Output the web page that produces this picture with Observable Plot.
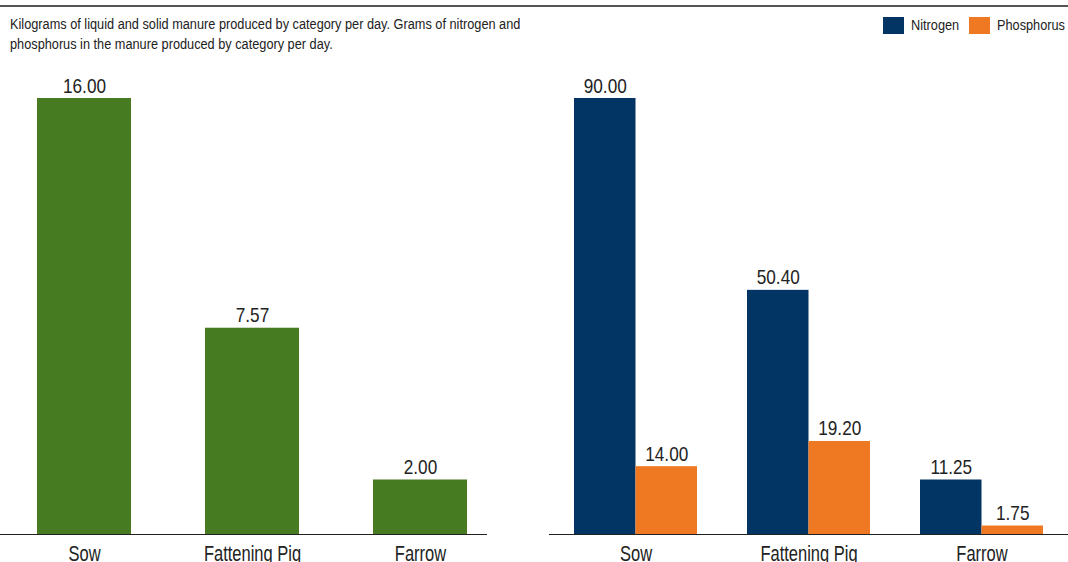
<!DOCTYPE html>
<html>
<head>
<meta charset="utf-8">
<script src="https://cdn.jsdelivr.net/npm/d3@7"></script>
<script src="https://cdn.jsdelivr.net/npm/@observablehq/plot@0.6"></script>
<style>
  html, body { margin: 0; padding: 0; background: #fff; }
  #page {
    position: relative; width: 1068px; height: 562px; overflow: hidden;
    font-family: "Liberation Sans", Arial, sans-serif;
    color: #222;
  }
  #rule { position: absolute; left: 0; top: 5px; width: 1068px; height: 2px; background: #555; }
  #subtitle {
    position: absolute; left: 10px; top: 14px; font-size: 14px; line-height: 20px; color: #222;
    white-space: nowrap; transform: scaleX(0.91); transform-origin: 0 0;
  }
  .sw { position: absolute; width: 21px; height: 17px; top: 17px; }
  .lg {
    position: absolute; top: 17px; font-size: 14px; line-height: 17px; white-space: nowrap;
    transform: scaleX(0.91); transform-origin: 0 0; color: #222;
  }
  #left, #right { position: absolute; top: 0; }
  #left { left: 0; }
  #right { left: 540px; }
</style>
</head>
<body>
<div id="page">
  <div id="rule"></div>
  <div id="subtitle">Kilograms of liquid and solid manure produced by category per day. Grams of nitrogen and<br>phosphorus in the manure produced by category per day.</div>
  <div id="legend"></div>
  <div id="left"></div>
  <div id="right"></div>
</div>
<script>
// Animal categories
const categories = ["Sow", "Fattening Pig", "Farrow"];
// Manure, kg per day
const manureKg = [16.00, 7.57, 2.00];
// Nutrients in the manure, g per day
const nitrogenG = [90.00, 50.40, 11.25];
const phosphorusG = [14.00, 19.20, 1.75];

const seriesNames = ["Nitrogen", "Phosphorus"];
const colors = { manure: "#477b21", Nitrogen: "#033564", Phosphorus: "#ef7823" };

const font = '"Liberation Sans", Arial, sans-serif';
const fmt = d => d.toFixed(2);

const manure = categories.map((c, i) => ({ category: c, value: manureKg[i] }));
const nitrogen = categories.map((c, i) => ({ category: c, value: nitrogenG[i] }));
const phosphorus = categories.map((c, i) => ({ category: c, value: phosphorusG[i] }));

// Legend, right-aligned in the header
const legend = document.getElementById("legend");
const legendX = { Nitrogen: 883, Phosphorus: 969 };
for (const s of seriesNames) {
  const sw = document.createElement("div");
  sw.className = "sw";
  sw.style.left = legendX[s] + "px";
  sw.style.background = colors[s];
  const lb = document.createElement("div");
  lb.className = "lg";
  lb.style.left = (legendX[s] + 28) + "px";
  lb.textContent = s;
  legend.appendChild(sw);
  legend.appendChild(lb);
}

// Condense SVG text horizontally around each label's anchor
function condense(svg, selector, k) {
  svg.querySelectorAll(selector).forEach(t => {
    const tr = t.getAttribute("transform");
    if (tr) {
      t.setAttribute("transform", tr + ` scale(${k},1)`);
    } else {
      const x = +t.getAttribute("x") || 0, y = +t.getAttribute("y") || 0;
      t.setAttribute("transform", `translate(${x},${y}) scale(${k},1) translate(${-x},${-y})`);
    }
  });
  return svg;
}
function condenseAll(svg) {
  condense(svg, 'g[aria-label="text"] text', 0.86);
  condense(svg, 'g[aria-label="x-axis tick label"] text', 0.75);
  return svg;
}

const common = {
  height: 580,
  marginTop: 98,
  marginBottom: 46,
  style: { fontFamily: font, fontSize: "20px", color: "#222", background: "transparent", overflow: "visible" }
};

const valueLabel = { text: d => fmt(d.value), lineAnchor: "bottom", dy: -6, fontSize: 20, fill: "#222" };
const categoryAxis = () => Plot.axisX({ tickSize: 0, tickPadding: 11, fontSize: 22, label: null });

// Manure per category
const left = Plot.plot({
  ...common,
  width: 487,
  marginLeft: 0,
  marginRight: 0,
  x: { domain: categories, range: [0, 504], paddingInner: 0.44, paddingOuter: 0.22 },
  y: { domain: [0, 16], axis: null },
  marks: [
    Plot.barY(manure, { x: "category", y: "value", fill: colors.manure }),
    Plot.text(manure, { x: "category", y: "value", ...valueLabel }),
    Plot.ruleY([0], { stroke: "#222", strokeWidth: 1.2 }),
    categoryAxis()
  ]
});
document.getElementById("left").appendChild(condenseAll(left));

// Nitrogen and phosphorus per category, side by side
const half = 123 / 2;
const right = Plot.plot({
  ...common,
  width: 528,
  marginLeft: 9,
  marginRight: 0,
  x: { domain: categories, paddingInner: 0.289, paddingOuter: 0.1445 },
  y: { domain: [0, 90], axis: null },
  marks: [
    Plot.barY(nitrogen, { x: "category", y: "value", fill: colors.Nitrogen, insetRight: half }),
    Plot.barY(phosphorus, { x: "category", y: "value", fill: colors.Phosphorus, insetLeft: half }),
    Plot.text(nitrogen, { x: "category", y: "value", dx: -half / 2, ...valueLabel }),
    Plot.text(phosphorus, { x: "category", y: "value", dx: half / 2, ...valueLabel }),
    Plot.ruleY([0], { stroke: "#222", strokeWidth: 1.2 }),
    categoryAxis()
  ]
});
document.getElementById("right").appendChild(condenseAll(right));
</script>
</body>
</html>
